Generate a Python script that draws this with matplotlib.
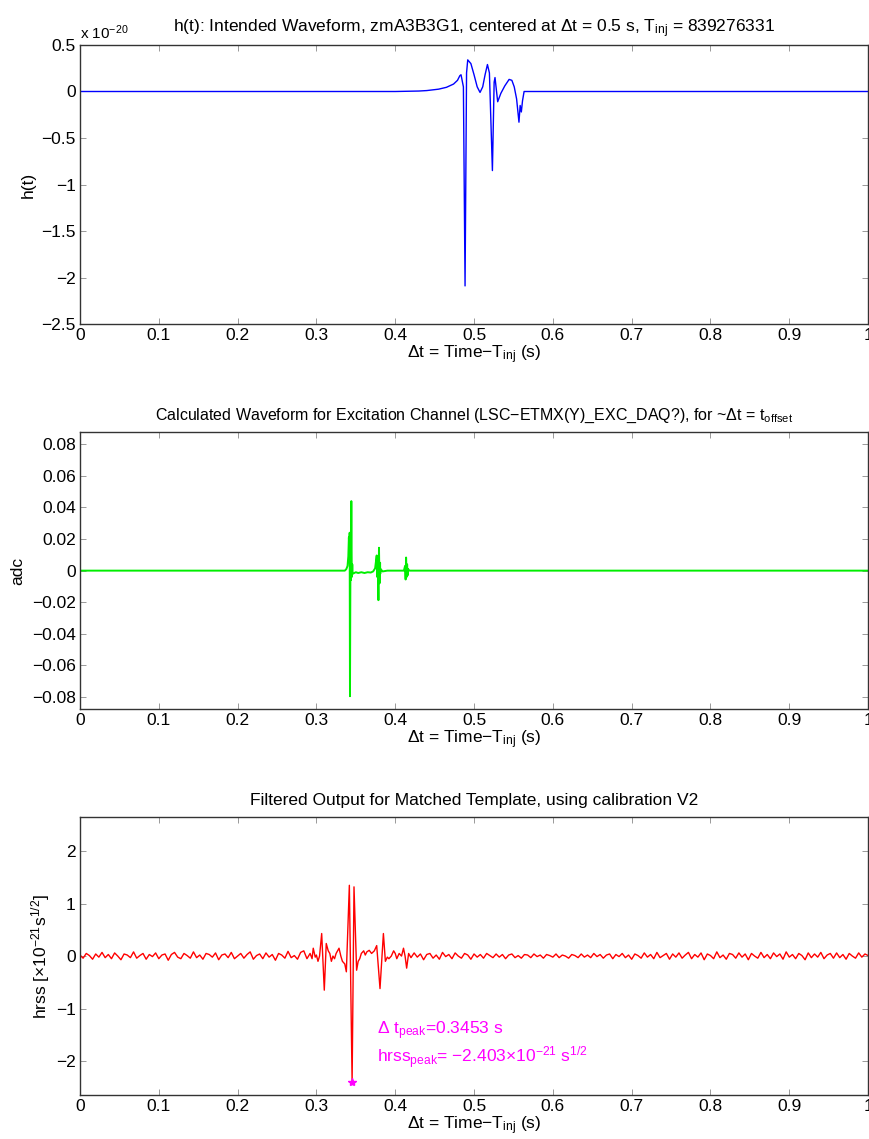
import numpy as np
import matplotlib
matplotlib.use('Agg')
import matplotlib.pyplot as plt
from matplotlib.ticker import FuncFormatter

plt.rcParams['font.family'] = ['Liberation Sans', 'DejaVu Sans']
plt.rcParams['mathtext.default'] = 'regular'

# ---- h(t), intended waveform (units of 1e-20), vertices
h_t = [0.0, 0.40, 0.43, 0.44, 0.455, 0.465, 0.474, 0.479, 0.482, 0.4835, 0.4865,
       0.4886, 0.4905, 0.492, 0.496, 0.500, 0.504, 0.5076, 0.511, 0.514, 0.517,
       0.5195, 0.5233, 0.5255, 0.5266, 0.530, 0.534, 0.539, 0.5445, 0.548, 0.551,
       0.554, 0.557, 0.5585, 0.560, 0.5615, 0.5635, 0.570, 1.0]
h_v = [0.0, 0.0, 0.005, 0.01, 0.025, 0.045, 0.08, 0.12, 0.17, 0.18, 0.05,
       -2.09, 0.20, 0.34, 0.30, 0.18, 0.05, -0.01, 0.05, 0.18, 0.29,
       0.20, -0.85, 0.10, 0.15, -0.11, -0.02, 0.06, 0.13, 0.12, 0.05,
       -0.08, -0.33, -0.15, -0.22, -0.10, 0.0, 0.0, 0.0]

# ---- excitation channel (adc counts)
adc_t = [0.0, 0.336, 0.338, 0.3395, 0.3405, 0.3412, 0.3418, 0.3422, 0.3426, 0.3432,
         0.3437, 0.3443, 0.3449, 0.3455, 0.346, 0.350, 0.353, 0.357, 0.361, 0.365,
         0.369, 0.372, 0.3745, 0.3765, 0.3772, 0.3779, 0.3787, 0.3794, 0.3801, 0.3808,
         0.381, 0.3815, 0.384, 0.390, 0.400, 0.411, 0.4125, 0.4132, 0.4138, 0.4145,
         0.4151, 0.4157, 0.4163, 0.418, 1.0]
adc_v = [0.0, 0.0, 0.001, 0.003, 0.009, 0.021, 0.014, 0.024, -0.0795, 0.010,
         -0.006, 0.044, -0.004, 0.004, -0.002, -0.001, -0.0015, -0.001, -0.0015, -0.001,
         -0.0012, -0.0005, 0.0015, 0.0096, -0.004, 0.006, -0.0187, 0.0145, -0.008, 0.005,
         -0.002, 0.001, -0.0005, 0.0, 0.0, 0.0, 0.003, -0.0056, 0.0083, -0.004,
         0.004, -0.003, 0.001, 0.0, 0.0]

# ---- filtered output (units of 1e-21 s^1/2)
hrss_pre = [0.02, -0.04, 0.05, 0.01, -0.06, 0.04, -0.02, 0.07, -0.03, 0.03, -0.05,
            0.06, 0.00, -0.07, 0.04, 0.02, -0.03, 0.08, -0.04, 0.01, 0.05, -0.06,
            0.03, -0.01, 0.06, -0.05, 0.02, 0.04, -0.08, 0.03, 0.07, -0.02, -0.05,
            0.05, 0.01, -0.04, 0.08, -0.03, 0.02, -0.06, 0.05, 0.03, -0.02, 0.06,
            -0.07, 0.02, 0.04, -0.03, 0.07, -0.05, 0.00, 0.05, -0.04, 0.03, 0.08,
            -0.06, 0.01, 0.04, -0.05, 0.06, -0.02, 0.03, -0.08, 0.05, 0.02, -0.04,
            0.09, -0.03, 0.01, -0.06, 0.07, 0.10, -0.05]
hrss_evt_t = [0.292, 0.2945, 0.296, 0.2985, 0.300, 0.302, 0.304, 0.3067, 0.310, 0.3125,
              0.315, 0.317, 0.319, 0.321, 0.323, 0.325, 0.3287, 0.331, 0.333, 0.336,
              0.338, 0.3418, 0.3453, 0.3477, 0.351, 0.353, 0.355, 0.357, 0.360, 0.362,
              0.364, 0.367, 0.370, 0.3735, 0.3765, 0.3807, 0.385, 0.3875, 0.390, 0.392,
              0.395, 0.398, 0.400, 0.402, 0.405, 0.408, 0.4105, 0.4125, 0.4145, 0.417]
hrss_evt_v = [0.05, -0.05, 0.15, -0.02, 0.02, -0.10, 0.00, 0.43, -0.65, 0.24,
              0.10, 0.05, -0.10, 0.00, -0.05, 0.05, 0.15, 0.00, -0.10, -0.15,
              -0.30, 1.35, -2.403, 1.32, -0.27, -0.10, -0.05, 0.05, 0.10, 0.02,
              0.08, 0.11, 0.05, 0.10, 0.20, -0.62, 0.43, -0.10, -0.02, -0.05,
              0.00, 0.10, 0.05, -0.05, 0.05, 0.00, 0.15, 0.00, -0.23, 0.05]
hrss_post = [-0.03, 0.06, -0.02, 0.04, -0.07, 0.03, 0.05, -0.04, 0.02, -0.06, 0.07,
             -0.01, 0.03, -0.05, 0.06, 0.00, -0.04, 0.05, 0.02, -0.06, 0.04, -0.02,
             0.03, -0.04, 0.05, 0.01, -0.03, 0.04, -0.02, 0.03, -0.05, 0.02, 0.04,
             -0.03, 0.01, -0.04, 0.03, 0.02, -0.03, 0.04, -0.01, 0.02, -0.04, 0.03,
             0.01, -0.02, 0.04, -0.03, 0.02, 0.00, -0.04, 0.03, 0.01, -0.03, 0.04,
             -0.02, 0.02, -0.03, 0.05, -0.01, 0.03, -0.04, 0.02, 0.04, -0.05, 0.03,
             -0.01, 0.05, -0.03, 0.02, -0.06, 0.04, 0.01, -0.04, 0.06, -0.02, 0.03,
             -0.05, 0.07, -0.03, 0.01, 0.05, -0.06, 0.04, -0.02, 0.06, -0.04, 0.02,
             0.07, -0.05, 0.03, -0.02, 0.06, -0.07, 0.04, 0.01, -0.05, 0.08, -0.03,
             0.02, -0.06, 0.05, 0.03, -0.04, 0.06, -0.02, 0.04, -0.07, 0.05, 0.00,
             -0.04, 0.07, -0.03, 0.03, -0.05, 0.06, -0.01, 0.04, -0.06, 0.08, -0.02,
             0.03, -0.05, 0.05, 0.01, -0.07, 0.06, -0.03, 0.04, -0.02, 0.07, -0.05,
             0.02, 0.05, -0.04, 0.06, -0.03, 0.03, -0.06, 0.05, 0.00, -0.04, 0.06,
             -0.02, 0.04, 0.01]
t_peak = 0.3453
hrss_peak = -2.403

hrss_t = np.concatenate([np.linspace(0, 0.288, len(hrss_pre)), hrss_evt_t,
                         np.linspace(0.42, 1.0, len(hrss_post))])
hrss_v = np.concatenate([hrss_pre, hrss_evt_v, hrss_post])

FS = 12.5
xlab = r'$\Delta$t = Time$-$T$_{inj}$ (s)'
fmt = FuncFormatter(lambda x, p: ('%g' % round(x, 6)).replace('-', '\u2212'))


def style(ax):
    ax.set_xlim(0, 1)
    ax.set_xticks(np.arange(0, 1.01, 0.1))
    ax.xaxis.set_major_formatter(fmt)
    ax.yaxis.set_major_formatter(fmt)
    ax.tick_params(direction='in', top=True, right=True, length=4, width=0.7,
                   color='#999999', labelsize=FS, pad=3)
    for s in ax.spines.values():
        s.set_color('#333333')
        s.set_linewidth(1.0)


fig = plt.figure(figsize=(8.69, 11.39), dpi=100)
left, width = 0.092, 0.907

# top panel
ax1 = fig.add_axes([left, 0.7155, width, 0.245])
ax1.plot(h_t, h_v, color='#0000ff', lw=1.0)
style(ax1)
ax1.set_ylim(-2.5, 0.5)
ax1.set_yticks(np.arange(-2.5, 0.51, 0.5))
ax1.set_title(r'h(t): Intended Waveform, zmA3B3G1, centered at $\Delta$t = 0.5 s, T$_{inj}$ = 839276331',
              fontsize=FS, pad=9)
ax1.set_xlabel(xlab, fontsize=FS, labelpad=0)
ax1.set_ylabel('h(t)', fontsize=FS, labelpad=4)
ax1.text(0.0, 1.01, r'x 10$^{-20}$', transform=ax1.transAxes, fontsize=FS - 1.5, va='bottom')

# middle panel
ax2 = fig.add_axes([left, 0.3775, width, 0.243])
ax2.plot(adc_t, adc_v, color='#00ee00', lw=1.4)
style(ax2)
ax2.set_ylim(-0.0876, 0.0876)
ax2.set_yticks(np.arange(-0.08, 0.081, 0.02))
ax2.set_title(r'Calculated Waveform for Excitation Channel (LSC$-$ETMX(Y)_EXC_DAQ?), for ~$\Delta$t = t$_{offset}$',
              fontsize=FS - 1, pad=9)
ax2.set_xlabel(xlab, fontsize=FS, labelpad=0)
ax2.set_ylabel('adc', fontsize=FS, labelpad=5)

# bottom panel
ax3 = fig.add_axes([left, 0.0386, width, 0.244])
ax3.plot(hrss_t, hrss_v, color='#ff0000', lw=1.0)
ax3.plot([t_peak], [hrss_peak], marker='*', color='#ff00ff', ms=6, ls='none')
style(ax3)
ax3.set_ylim(-2.65, 2.65)
ax3.set_yticks([-2, -1, 0, 1, 2])
ax3.set_title('Filtered Output for Matched Template, using calibration V2', fontsize=FS, pad=9)
ax3.set_xlabel(xlab, fontsize=FS, labelpad=0)
ax3.set_ylabel(r'hrss [$\times$10$^{-21}$s$^{1/2}$]', fontsize=FS, labelpad=3)
ax3.text(0.377, -1.5, r'$\Delta$ t$_{peak}$=%.4f s' % t_peak, color='#ff00ff', fontsize=FS)
ax3.text(0.377, -2.03, r'hrss$_{peak}$= $-$%.3f$\times$10$^{-21}$ s$^{1/2}$' % abs(hrss_peak),
         color='#ff00ff', fontsize=FS)

fig.savefig('out.png', dpi=100)
